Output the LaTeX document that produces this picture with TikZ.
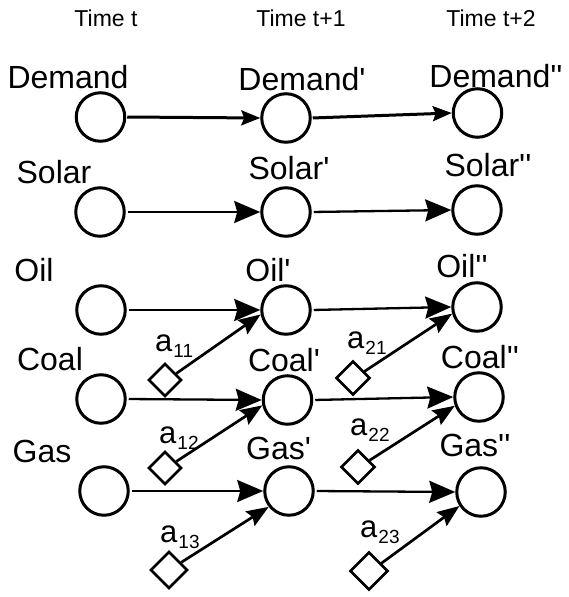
\documentclass[tikz,border=0pt]{standalone}
\usepackage{fontspec}
\setmainfont{Liberation Sans}
\usetikzlibrary{arrows.meta,shapes.geometric}
% straight apostrophe, set as a glyph so the TeX ligature mapping leaves it alone
\newcommand\pr{\XeTeXglyph\XeTeXcharglyph"27\relax}
\newcommand\wsub[1]{a\hspace{1pt}\raisebox{-6pt}{\fontsize{19}{19}\selectfont #1}}
\begin{document}
\begin{tikzpicture}[x=1pt,y=-1pt,
  state/.style={circle,draw,line width=3pt,minimum size=48.5pt,inner sep=0pt},
  wbox/.style={diamond,draw,line width=2.6pt,minimum width=#1,minimum height=#1,inner sep=0pt,aspect=1},
  vname/.style={anchor=base,inner sep=0pt,font=\fontsize{32}{32}\selectfont},
  tname/.style={anchor=base,inner sep=0pt,font=\fontsize{23}{23}\selectfont},
  wname/.style={anchor=base west,inner sep=0pt,font=\fontsize{31}{31}\selectfont},
  hflow/.style={-{Stealth[length=26pt,width=22pt,inset=3pt]},line width=2.3pt,shorten <=2pt},
  dflow/.style={-{Stealth[length=22pt,width=17pt,inset=3pt]},line width=2.7pt},
  dem/.style={-{Stealth[length=19pt,width=15pt,inset=3pt]},line width=3pt,shorten <=1pt},
]
\useasboundingbox (0,0) rectangle (568,597);
\fill[white] (0,0) rectangle (568,597);

% time step headings
\node[tname] (t0) at (106,27) {Time t};
\node[tname] (t1) at (301,27) {Time t+1};
\node[tname] (t2) at (491,27) {Time t+2};

% state variables, one column per time step
\node[state] (d0) at (100.5,117) {};
\node[state] (s0) at (100,212) {};
\node[state] (o0) at (101,310) {};
\node[state] (c0) at (101,399) {};
\node[state] (g0) at (104,491) {};

\node[state] (d1) at (286,118) {};
\node[state] (s1) at (286,212) {};
\node[state] (o1) at (286,310) {};
\node[state] (c1) at (287.5,400) {};
\node[state] (g1) at (289,491) {};

\node[state] (d2) at (477.5,113) {};
\node[state] (s2) at (477,210) {};
\node[state] (o2) at (477,307) {};
\node[state] (c2) at (479,397) {};
\node[state] (g2) at (481,492) {};

% variable names
\node[vname] (ld0) at (68,88) {Demand};
\node[vname] (ls0) at (54,183) {Solar};
\node[vname] (lo0) at (34,281) {Oil};
\node[vname] (lc0) at (50,370) {Coal};
\node[vname] (lg0) at (42,462) {Gas};

\node[vname] (ld1) at (302,90) {Demand\pr};
\node[vname] (ls1) at (289,179) {Solar\pr};
\node[vname] (lo1) at (268,281) {Oil\pr};
\node[vname] (lc1) at (284,371) {Coal\pr};
\node[vname] (lg1) at (278.5,459) {Gas\pr};

\node[vname] (ld2) at (496,87) {Demand\pr\pr};
\node[vname] (ls2) at (488,176) {Solar\pr\pr};
\node[vname] (lo2) at (462,277) {Oil\pr\pr};
\node[vname] (lc2) at (480,368) {Coal\pr\pr};
\node[vname] (lg2) at (475,456) {Gas\pr\pr};

% action weights
\node[wbox=33pt] (w11) at (165,380) {};
\node[wbox=33pt] (w12) at (165,468) {};
\node[wbox=37pt] (w13) at (169,570) {};
\node[wbox=34pt] (w21) at (353,378) {};
\node[wbox=34pt] (w22) at (358,467) {};
\node[wbox=38pt] (w23) at (369,571) {};

\node[wname] (a11) at (155,351) {\wsub{11}};
\node[wname] (a12) at (159,443) {\wsub{12}};
\node[wname] (a13) at (160,542) {\wsub{13}};
\node[wname] (a21) at (347,348) {\wsub{21}};
\node[wname] (a22) at (350,435) {\wsub{22}};
\node[wname] (a23) at (360,537) {\wsub{23}};

% transitions between time steps
\draw[dem] (d0.east) -- (d1.west);
\draw[dem] (d1.east) -- (d2.west);
\draw[hflow] (s0.east) -- (s1.west);
\draw[hflow] (s1.east) -- (s2.west);
\draw[hflow] (o0.east) -- (o1.west);
\draw[hflow] (o1.east) -- (o2.west);
\draw[hflow] (c0.east) -- (c1.west);
\draw[hflow] (c1.east) -- (c2.west);
\draw[hflow] (g0.east) -- (g1.west);
\draw[hflow] (g1.east) -- (g2.west);

% weight inputs
\draw[dflow] (w11.30) -- (o1.190);
\draw[dflow] (w12.30) -- (c1.192);
\draw[dflow] (w13.32) -- (g1.218);
\draw[dflow] (w21.30) -- (o2.195);
\draw[dflow] (w22.30) -- (c2.200);
\draw[dflow] (w23.32) -- (g2.213);
\end{tikzpicture}
\end{document}
